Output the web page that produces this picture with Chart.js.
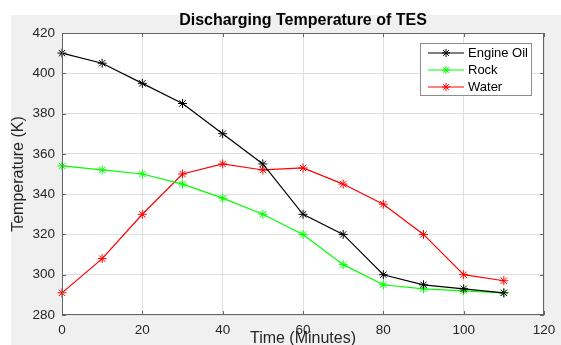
<!DOCTYPE html>
<html>
<head>
<meta charset="utf-8">
<script src="https://cdn.jsdelivr.net/npm/chart.js@4.4.0/dist/chart.umd.min.js"></script>
<style>
  html, body { margin: 0; padding: 0; background: #fff; }
  #wrap { width: 561px; height: 345px; }
</style>
</head>
<body>
<div id="wrap"><canvas id="tesChart" width="561" height="345"></canvas></div>
<script>
// données
const minutes = [0, 10, 20, 30, 40, 50, 60, 70, 80, 90, 100, 110];
const engineOil = [410, 405, 395, 385, 370, 355, 330, 320, 300, 295, 293, 291];
const rock = [354, 352, 350, 345, 338, 330, 320, 305, 295, 293, 292, 291];
const water = [291, 308, 330, 350, 355, 352, 353, 345, 335, 320, 300, 297];
const seriesNames = ['Engine Oil', 'Rock', 'Water'];
const seriesColors = ['#000000', '#00ff00', '#ff0000'];
const xTicks = [0, 20, 40, 60, 80, 100, 120];
const yTicks = [280, 300, 320, 340, 360, 380, 400, 420];

const FONT = "'Liberation Sans', Arial, Helvetica, sans-serif";
const AXIS_COLOR = '#262626';
const BOX_COLOR = '#666666';

function toPoints(values) {
  return minutes.map((m, i) => ({ x: m, y: values[i] }));
}

// petit astérisque façon MATLAB
function drawStar(ctx, x, y, r, color) {
  ctx.save();
  ctx.strokeStyle = color;
  ctx.lineWidth = 1;
  ctx.beginPath();
  for (let k = 0; k < 4; k++) {
    const a = k * Math.PI / 4;
    ctx.moveTo(x - r * Math.cos(a), y - r * Math.sin(a));
    ctx.lineTo(x + r * Math.cos(a), y + r * Math.sin(a));
  }
  ctx.stroke();
  ctx.restore();
}

const backgroundPlugin = {
  id: 'matlabBackground',
  beforeDraw(chart) {
    const { ctx, chartArea } = chart;
    ctx.save();
    ctx.fillStyle = '#ffffff';
    ctx.fillRect(0, 0, chart.width, chart.height);
    ctx.fillStyle = '#f0f0f0';
    ctx.fillRect(11, 15, chart.width - 11, chart.height - 15);
    ctx.fillStyle = '#ffffff';
    ctx.fillRect(chartArea.left, chartArea.top, chartArea.right - chartArea.left, chartArea.bottom - chartArea.top);
    ctx.restore();
  }
};

const boxPlugin = {
  id: 'matlabBox',
  afterDraw(chart) {
    const { ctx, chartArea } = chart;
    const { left, right, top, bottom } = chartArea;
    const xs = chart.scales.x, ys = chart.scales.y;
    ctx.save();
    ctx.strokeStyle = BOX_COLOR;
    ctx.lineWidth = 1;
    ctx.strokeRect(left + 0.5, top + 0.5, right - left - 1, bottom - top - 1);

    // graduations vers l'intérieur
    const tl = 4;
    ctx.beginPath();
    xTicks.forEach(v => {
      const px = Math.round(xs.getPixelForValue(v)) + 0.5;
      ctx.moveTo(px, bottom); ctx.lineTo(px, bottom - tl);
      ctx.moveTo(px, top); ctx.lineTo(px, top + tl);
    });
    yTicks.forEach(v => {
      const py = Math.round(ys.getPixelForValue(v)) + 0.5;
      ctx.moveTo(left, py); ctx.lineTo(left + tl, py);
      ctx.moveTo(right, py); ctx.lineTo(right - tl, py);
    });
    ctx.stroke();

    // légende
    const lw = 112, lh = 53;
    const lx = right - 12 - lw, ly = top + 10;
    ctx.fillStyle = '#ffffff';
    ctx.fillRect(lx, ly, lw, lh);
    ctx.strokeStyle = '#8c8c8c';
    ctx.strokeRect(lx + 0.5, ly + 0.5, lw - 1, lh - 1);
    ctx.font = '13px ' + FONT;
    ctx.textBaseline = 'middle';
    ctx.textAlign = 'left';
    chart.data.datasets.forEach((ds, i) => {
      const cy = ly + 10 + i * 17;
      ctx.strokeStyle = ds.borderColor;
      ctx.lineWidth = 1.2;
      ctx.beginPath();
      ctx.moveTo(lx + 8, cy); ctx.lineTo(lx + 44, cy);
      ctx.stroke();
      drawStar(ctx, lx + 26, cy, 4, ds.borderColor);
      ctx.fillStyle = '#000000';
      ctx.fillText(ds.label, lx + 48, cy + 0.5);
    });
    ctx.restore();
  }
};

const datasets = [engineOil, rock, water].map((vals, i) => ({
  label: seriesNames[i],
  data: toPoints(vals),
  borderColor: seriesColors[i],
  backgroundColor: seriesColors[i],
  borderWidth: 1.2,
  pointStyle: 'star',
  pointRadius: 4.5,
  pointBorderWidth: 1,
  pointBorderColor: seriesColors[i],
  tension: 0,
  clip: false
}));

new Chart(document.getElementById('tesChart'), {
  type: 'line',
  data: { datasets: datasets },
  plugins: [backgroundPlugin, boxPlugin],
  options: {
    responsive: false,
    animation: false,
    layout: { padding: { left: 0, top: 0, right: 17, bottom: 0 } },
    plugins: {
      legend: { display: false },
      tooltip: { enabled: false },
      title: {
        display: true,
        text: 'Discharging Temperature of TES',
        fullSize: false,
        color: '#000000',
        font: { family: FONT, size: 16, weight: 'bold' },
        padding: { top: 10.9, bottom: 2.9 }
      }
    },
    scales: {
      x: {
        type: 'linear',
        min: 0,
        max: 120,
        afterBuildTicks(scale) { scale.ticks = xTicks.map(v => ({ value: v })); },
        afterFit(scale) {
          scale.height = 30;
          scale.paddingLeft = 0; scale.paddingRight = 0;
        },
        ticks: { color: AXIS_COLOR, padding: 7, maxRotation: 0, font: { family: FONT, size: 13.5 } },
        grid: { color: '#dfdfdf', drawTicks: false },
        border: { display: false },
        title: {
          display: true,
          text: 'Time (Minutes)',
          color: AXIS_COLOR,
          font: { family: FONT, size: 16 },
          padding: { top: 0, bottom: -3.6 }
        }
      },
      y: {
        type: 'linear',
        min: 280,
        max: 420,
        afterBuildTicks(scale) { scale.ticks = yTicks.map(v => ({ value: v })); },
        afterFit(scale) {
          scale.width = 62;
          scale.paddingTop = 0; scale.paddingBottom = 0;
        },
        ticks: { color: AXIS_COLOR, padding: 7, font: { family: FONT, size: 13.5 } },
        grid: { color: '#dfdfdf', drawTicks: false },
        border: { display: false },
        title: {
          display: true,
          text: 'Temperature (K)',
          color: AXIS_COLOR,
          font: { family: FONT, size: 16 },
          padding: { top: 9.4, bottom: 0 }
        }
      }
    }
  }
});
</script>
</body>
</html>
